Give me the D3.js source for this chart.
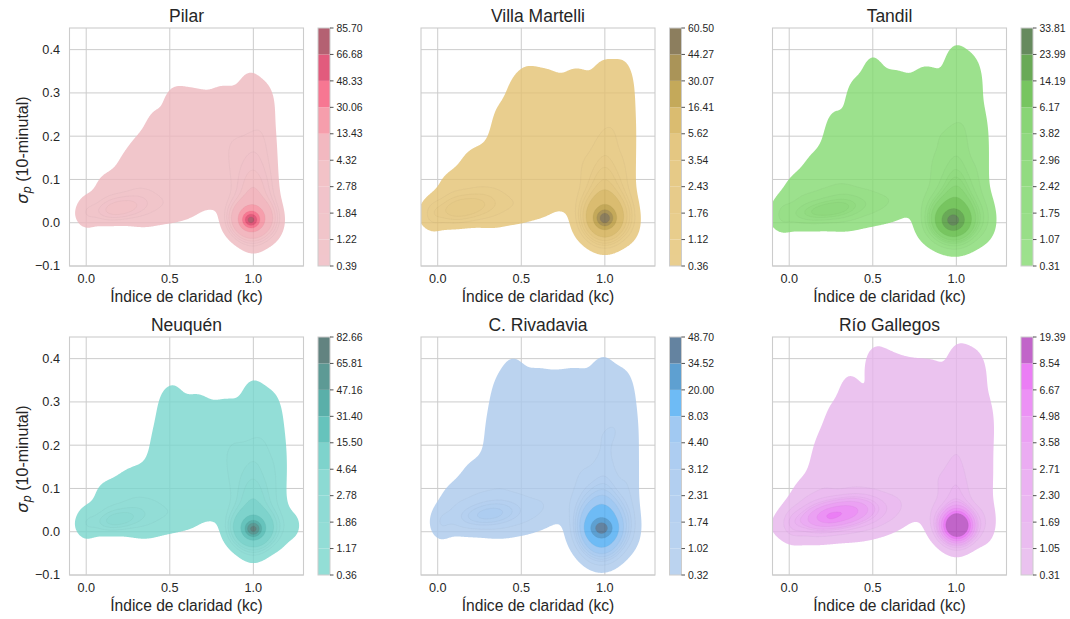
<!DOCTYPE html>
<html>
<head>
<meta charset="utf-8">
<script src="https://cdn.jsdelivr.net/npm/d3@7"></script>
<style>
body { margin: 0; background: #fff; }
svg { display: block; font-family: "Liberation Sans", Arial, sans-serif; }
</style>
</head>
<body>
<svg width="1070" height="619"></svg>
<script>
// station names and the seaborn husl palette used as seed colours
const stations = ["Pilar", "Villa Martelli", "Tandil", "Neuquén", "C. Rivadavia", "Río Gallegos"];
const seeds = ["#f77189", "#bb9832", "#50b131", "#36ada4", "#3ba3ec", "#e866f4"];

// contour levels (bottom to top)
const levelsPilar = [0.39, 1.22, 1.84, 2.78, 4.32, 13.43, 30.06, 48.33, 66.68, 85.70];
const levelsMartelli = [0.36, 1.12, 1.76, 2.43, 3.54, 5.62, 16.41, 30.07, 44.27, 60.50];
const levelsTandil = [0.31, 1.07, 1.75, 2.42, 2.96, 3.82, 6.17, 14.19, 23.99, 33.81];
const levelsNeuquen = [0.36, 1.17, 1.86, 2.78, 4.64, 15.50, 31.40, 47.16, 65.81, 82.66];
const levelsRivadavia = [0.32, 1.02, 1.74, 2.31, 3.12, 4.40, 8.03, 20.00, 34.52, 48.70];
const levelsGallegos = [0.31, 1.05, 1.69, 2.30, 2.71, 3.58, 4.98, 6.67, 8.54, 19.39];

// density: [kc, sigma, sd kc, sd sigma, corr, height]
const kdePilar = [
  [0.985, 0.006, 0.03, 0.011, 0, 48], [0.99, 0.01, 0.06, 0.022, 0, 24], [1.0, 0.045, 0.06, 0.05, 0, 4], [1.0, -0.005, 0.1, 0.03, 0, 1.0],
  [0.2, 0.033, 0.075, 0.014, 0.3, 2.4], [0.18, 0.035, 0.13, 0.025, 0.3, 1.4],
  [0.53, 0.28, 0.06, 0.035, 0, 0.5], [0.65, 0.275, 0.07, 0.035, 0, 0.5], [0.82, 0.285, 0.07, 0.035, 0, 0.5], [0.98, 0.31, 0.06, 0.04, 0, 0.55], [1.08, 0.28, 0.05, 0.04, 0, 0.4],
  [0.33, 0.16, 0.05, 0.04, 0, 0.35], [0.41, 0.21, 0.05, 0.045, 0, 0.55], [0.6, 0.2, 0.075, 0.045, 0, 0.6], [0.75, 0.2, 0.075, 0.045, 0, 0.6], [0.9, 0.2, 0.075, 0.045, 0, 0.7], [1.05, 0.2, 0.06, 0.05, 0, 0.7],
  [0.12, 0.08, 0.07, 0.035, 0, 0.5], [0.27, 0.12, 0.075, 0.045, 0, 0.6], [0.42, 0.13, 0.075, 0.045, 0, 0.6], [0.57, 0.13, 0.075, 0.045, 0, 0.6], [0.72, 0.12, 0.075, 0.045, 0, 0.6], [0.88, 0.12, 0.06, 0.05, 0, 0.8], [1.0, 0.12, 0.06, 0.06, 0, 1.2], [1.1, 0.1, 0.04, 0.06, 0, 0.5],
  [0.0, 0.025, 0.04, 0.025, 0, 0.6], [0.35, 0.04, 0.09, 0.035, 0, 0.9], [0.52, 0.04, 0.08, 0.03, 0, 0.7], [0.63, 0.055, 0.06, 0.03, 0, 0.45], [0.76, 0.065, 0.06, 0.03, 0, 0.4], [0.88, 0.03, 0.05, 0.03, 0, 0.5], [1.12, 0.02, 0.04, 0.035, 0, 0.5]
];
const kdeMartelli = [
  [1.0, 0.01, 0.035, 0.013, 0, 36], [1.0, 0.015, 0.065, 0.028, 0, 17], [1.0, 0.05, 0.065, 0.05, 0, 3.5], [1.0, -0.01, 0.11, 0.03, 0, 1.0],
  [0.15, 0.032, 0.1, 0.02, 0.3, 2.0], [0.13, 0.035, 0.14, 0.028, 0.3, 1.2],
  [0.45, 0.28, 0.04, 0.04, 0, 0.35], [0.53, 0.325, 0.06, 0.035, 0, 0.5], [0.65, 0.32, 0.07, 0.035, 0, 0.5], [0.83, 0.325, 0.07, 0.035, 0, 0.5], [1.0, 0.335, 0.06, 0.04, 0, 0.55], [1.1, 0.32, 0.05, 0.045, 0, 0.5],
  [0.38, 0.22, 0.05, 0.05, 0, 0.55], [0.57, 0.22, 0.075, 0.045, 0, 0.6], [0.72, 0.22, 0.075, 0.045, 0, 0.6], [0.88, 0.22, 0.075, 0.045, 0, 0.7], [1.04, 0.22, 0.06, 0.05, 0, 0.7], [1.14, 0.22, 0.045, 0.08, 0, 0.5],
  [0.08, 0.08, 0.07, 0.035, 0, 0.5], [0.22, 0.12, 0.075, 0.045, 0, 0.6], [0.37, 0.14, 0.075, 0.045, 0, 0.6], [0.52, 0.14, 0.075, 0.045, 0, 0.6], [0.68, 0.13, 0.075, 0.045, 0, 0.6], [0.86, 0.12, 0.06, 0.05, 0, 0.8], [1.0, 0.12, 0.06, 0.06, 0, 1.2], [1.12, 0.1, 0.045, 0.06, 0, 0.55],
  [-0.03, 0.02, 0.04, 0.025, 0, 0.6], [0.33, 0.04, 0.09, 0.035, 0, 0.9], [0.5, 0.04, 0.08, 0.03, 0, 0.7], [0.63, 0.05, 0.06, 0.03, 0, 0.45], [0.76, 0.06, 0.06, 0.03, 0, 0.4], [0.88, 0.03, 0.05, 0.03, 0, 0.5], [1.15, 0.02, 0.04, 0.035, 0, 0.55]
];
const kdeTandil = [
  [0.98, 0.005, 0.045, 0.016, 0, 17], [0.98, 0.01, 0.08, 0.03, 0, 9], [1.0, 0.05, 0.07, 0.05, 0, 3], [0.98, -0.01, 0.12, 0.03, 0, 1.2],
  [0.22, 0.028, 0.12, 0.016, 0.4, 2.0], [0.2, 0.033, 0.17, 0.03, 0.3, 1.3],
  [0.4, 0.29, 0.05, 0.04, 0, 0.45], [0.5, 0.34, 0.05, 0.04, 0, 0.5], [0.63, 0.315, 0.07, 0.035, 0, 0.5], [0.82, 0.325, 0.07, 0.035, 0, 0.5], [1.0, 0.36, 0.06, 0.045, 0, 0.55], [1.1, 0.33, 0.05, 0.045, 0, 0.45],
  [0.27, 0.2, 0.05, 0.05, 0, 0.5], [0.45, 0.22, 0.075, 0.045, 0, 0.6], [0.6, 0.22, 0.075, 0.045, 0, 0.6], [0.75, 0.22, 0.075, 0.045, 0, 0.6], [0.9, 0.22, 0.075, 0.045, 0, 0.7], [1.04, 0.22, 0.06, 0.05, 0, 0.7], [1.15, 0.2, 0.04, 0.06, 0, 0.4],
  [0.05, 0.07, 0.07, 0.035, 0, 0.5], [0.18, 0.11, 0.075, 0.045, 0, 0.6], [0.33, 0.13, 0.075, 0.045, 0, 0.6], [0.5, 0.13, 0.075, 0.045, 0, 0.6], [0.67, 0.13, 0.075, 0.045, 0, 0.6], [0.86, 0.12, 0.06, 0.05, 0, 0.8], [1.0, 0.12, 0.06, 0.06, 0, 1.2], [1.13, 0.1, 0.045, 0.06, 0, 0.55],
  [-0.04, 0.02, 0.04, 0.025, 0, 0.6], [0.35, 0.04, 0.09, 0.035, 0, 0.9], [0.52, 0.04, 0.08, 0.03, 0, 0.7], [0.63, 0.05, 0.06, 0.03, 0, 0.45], [0.76, 0.06, 0.06, 0.03, 0, 0.4], [0.87, 0.03, 0.05, 0.03, 0, 0.5], [1.17, 0.02, 0.045, 0.035, 0, 0.55]
];
const kdeNeuquen = [
  [1.0, 0.006, 0.03, 0.011, 0, 46], [1.0, 0.01, 0.06, 0.022, 0, 24], [1.0, 0.045, 0.06, 0.05, 0, 4], [1.0, -0.005, 0.1, 0.03, 0, 1.0],
  [0.19, 0.028, 0.07, 0.013, 0.3, 2.3], [0.18, 0.032, 0.13, 0.025, 0.3, 1.3],
  [0.46, 0.27, 0.035, 0.04, 0, 0.35], [0.52, 0.3, 0.05, 0.04, 0, 0.5], [0.66, 0.285, 0.07, 0.035, 0, 0.5], [0.84, 0.27, 0.07, 0.035, 0, 0.5], [1.0, 0.31, 0.06, 0.04, 0, 0.55], [1.1, 0.28, 0.05, 0.04, 0, 0.4],
  [0.43, 0.2, 0.04, 0.045, 0, 0.5], [0.6, 0.2, 0.075, 0.045, 0, 0.6], [0.75, 0.2, 0.075, 0.045, 0, 0.6], [0.9, 0.2, 0.075, 0.045, 0, 0.7], [1.05, 0.2, 0.06, 0.05, 0, 0.7], [1.15, 0.17, 0.045, 0.08, 0, 0.5],
  [0.12, 0.08, 0.07, 0.035, 0, 0.5], [0.27, 0.1, 0.075, 0.04, 0, 0.6], [0.42, 0.12, 0.075, 0.045, 0, 0.6], [0.57, 0.13, 0.075, 0.045, 0, 0.6], [0.72, 0.12, 0.075, 0.045, 0, 0.6], [0.88, 0.12, 0.06, 0.05, 0, 0.8], [1.0, 0.12, 0.06, 0.06, 0, 1.2], [1.12, 0.1, 0.045, 0.06, 0, 0.55],
  [0.0, 0.02, 0.04, 0.025, 0, 0.6], [0.35, 0.035, 0.09, 0.035, 0, 0.9], [0.52, 0.04, 0.08, 0.03, 0, 0.7], [0.63, 0.05, 0.06, 0.03, 0, 0.45], [0.76, 0.06, 0.06, 0.03, 0, 0.4], [0.88, 0.03, 0.05, 0.03, 0, 0.5], [1.16, 0.02, 0.045, 0.035, 0, 0.55], [1.24, 0.015, 0.04, 0.025, 0, 0.45]
];
const kdeRivadavia = [
  [0.98, 0.008, 0.04, 0.013, 0, 27], [0.98, 0.01, 0.07, 0.035, 0, 14], [0.98, 0.03, 0.08, 0.05, 0, 3.5], [0.98, -0.005, 0.11, 0.03, 0, 1.0],
  [0.3, 0.04, 0.1, 0.016, 0.3, 1.8], [0.26, 0.04, 0.15, 0.03, 0.3, 1.2],
  [0.36, 0.3, 0.04, 0.045, 0, 0.4], [0.45, 0.36, 0.06, 0.04, 0, 0.5], [0.6, 0.34, 0.07, 0.035, 0, 0.5], [0.72, 0.33, 0.06, 0.035, 0, 0.35], [0.83, 0.34, 0.07, 0.035, 0, 0.5], [0.99, 0.36, 0.06, 0.04, 0, 0.55], [1.1, 0.33, 0.05, 0.04, 0, 0.4],
  [0.34, 0.22, 0.05, 0.05, 0, 0.5], [0.47, 0.24, 0.075, 0.045, 0, 0.6], [0.62, 0.24, 0.075, 0.045, 0, 0.6], [0.77, 0.24, 0.075, 0.045, 0, 0.6], [0.92, 0.24, 0.075, 0.045, 0, 0.7], [1.06, 0.24, 0.06, 0.05, 0, 0.7], [1.15, 0.22, 0.045, 0.08, 0, 0.5],
  [0.1, 0.07, 0.07, 0.035, 0, 0.5], [0.23, 0.11, 0.075, 0.045, 0, 0.6], [0.38, 0.13, 0.075, 0.045, 0, 0.6], [0.53, 0.13, 0.075, 0.045, 0, 0.6], [0.68, 0.13, 0.075, 0.045, 0, 0.6], [0.86, 0.12, 0.06, 0.05, 0, 0.8], [1.0, 0.12, 0.06, 0.06, 0, 1.1], [1.14, 0.1, 0.045, 0.06, 0, 0.55],
  [0.02, 0.02, 0.04, 0.025, 0, 0.6], [0.38, 0.04, 0.09, 0.035, 0, 0.8], [0.53, 0.04, 0.08, 0.03, 0, 0.7], [0.64, 0.055, 0.06, 0.03, 0, 0.45], [0.76, 0.065, 0.06, 0.03, 0, 0.4], [0.87, 0.03, 0.05, 0.03, 0, 0.5], [1.14, 0.02, 0.045, 0.035, 0, 0.55]
];
const kdeGallegos = [
  [1.005, 0.014, 0.06, 0.023, 0, 14], [1.0, 0.04, 0.07, 0.05, 0, 1.5],
  [0.28, 0.04, 0.13, 0.022, 0.4, 4.6], [0.25, 0.036, 0.18, 0.035, 0.3, 1.8], [0.245, 0.034, 0.03, 0.008, 0, 0.6],
  [0.36, 0.32, 0.05, 0.04, 0, 0.45], [0.52, 0.385, 0.06, 0.04, 0, 0.5], [0.62, 0.37, 0.06, 0.035, 0, 0.45], [0.72, 0.36, 0.06, 0.035, 0, 0.4], [0.84, 0.36, 0.07, 0.035, 0, 0.5], [1.02, 0.39, 0.06, 0.04, 0, 0.55], [1.12, 0.37, 0.05, 0.04, 0, 0.45],
  [0.2, 0.18, 0.05, 0.045, 0, 0.4], [0.27, 0.24, 0.05, 0.05, 0, 0.5], [0.45, 0.25, 0.075, 0.045, 0, 0.6], [0.6, 0.26, 0.075, 0.045, 0, 0.6], [0.75, 0.26, 0.075, 0.045, 0, 0.6], [0.9, 0.26, 0.075, 0.045, 0, 0.7], [1.05, 0.26, 0.06, 0.05, 0, 0.7], [1.18, 0.25, 0.045, 0.06, 0, 0.45],
  [0.1, 0.08, 0.07, 0.035, 0, 0.5], [0.22, 0.12, 0.075, 0.045, 0, 0.6], [0.38, 0.14, 0.075, 0.045, 0, 0.6], [0.53, 0.14, 0.075, 0.045, 0, 0.6], [0.68, 0.14, 0.075, 0.045, 0, 0.6], [0.86, 0.13, 0.06, 0.05, 0, 0.8], [1.0, 0.13, 0.06, 0.06, 0, 1.1], [1.16, 0.12, 0.05, 0.06, 0, 0.55],
  [0.02, 0.02, 0.04, 0.025, 0, 0.6], [0.42, 0.04, 0.09, 0.035, 0, 0.8], [0.55, 0.04, 0.08, 0.03, 0, 0.7], [0.65, 0.055, 0.06, 0.03, 0, 0.45], [0.76, 0.065, 0.06, 0.03, 0, 0.4], [0.87, 0.03, 0.05, 0.03, 0, 0.5], [1.17, 0.02, 0.05, 0.035, 0, 0.6]
];

const xTicks = [0, 0.5, 1.0];
const yTicks = [-0.1, 0, 0.1, 0.2, 0.3, 0.4];

const panels = [
  { levels: levelsPilar, kde: kdePilar },
  { levels: levelsMartelli, kde: kdeMartelli },
  { levels: levelsTandil, kde: kdeTandil },
  { levels: levelsNeuquen, kde: kdeNeuquen },
  { levels: levelsRivadavia, kde: kdeRivadavia },
  { levels: levelsGallegos, kde: kdeGallegos }
];

// layout
const colX = [69.5, 421, 772.5], rowY = [28, 337];
const axW = 234, axH = 238, cbGap = 14.5, cbW = 12;
const fillAlpha = 0.8;
const ink = "#262626", edge = "#cccccc";

// --- husl colour space (as in seaborn) ---
const M = [[3.2406, -1.5372, -0.4986], [-0.9689, 1.8758, 0.0415], [0.0557, -0.2040, 1.0570]];
const Minv = [[0.4124, 0.3576, 0.1805], [0.2126, 0.7152, 0.0722], [0.0193, 0.1192, 0.9505]];
const refU = 0.19784, refV = 0.46834;
function maxChroma(L, H) {
  const hr = H * Math.PI / 180, sinH = Math.sin(hr), cosH = Math.cos(hr);
  const sub1 = Math.pow(L + 16, 3) / 1560896, sub2 = sub1 > 0.008856 ? sub1 : L / 903.3;
  let res = Infinity;
  for (const [m1, m2, m3] of M) {
    const top = (0.99915 * m1 + 1.05122 * m2 + 1.14460 * m3) * sub2;
    const rb = 0.86330 * m3 - 0.17266 * m2, lb = 0.12949 * m3 - 0.38848 * m1;
    const bottom = (rb * sinH + lb * cosH) * sub2;
    for (const t of [0, 1]) {
      const C = L * (top - 1.05122 * t) / (bottom + 0.17266 * sinH * t);
      if (C > 0 && C < res) res = C;
    }
  }
  return res;
}
function huslToRgb(H, S, L) {
  const C = maxChroma(L, H) / 100 * S, hr = H * Math.PI / 180;
  const U = Math.cos(hr) * C, V = Math.sin(hr) * C;
  const t = (L + 16) / 116, Y = t * t * t > 0.008856 ? t * t * t : (116 * t - 16) / 903.3;
  const vu = U / (13 * L) + refU, vv = V / (13 * L) + refV;
  const X = -(9 * Y * vu) / ((vu - 4) * vv - vu * vv);
  const Z = (9 * Y - 15 * vv * Y - vv * X) / (3 * vv);
  return M.map(r => {
    const c = r[0] * X + r[1] * Y + r[2] * Z;
    const s = c <= 0.0031308 ? 12.92 * c : 1.055 * Math.pow(c, 1 / 2.4) - 0.055;
    return Math.max(0, Math.min(1, s));
  });
}
function rgbToHusl(hex) {
  const c = d3.rgb(hex);
  const lin = [c.r, c.g, c.b].map(v => { v /= 255; return v > 0.04045 ? Math.pow((v + 0.055) / 1.055, 2.4) : v / 12.92; });
  const [X, Y, Z] = Minv.map(r => r[0] * lin[0] + r[1] * lin[1] + r[2] * lin[2]);
  const d = X + 15 * Y + 3 * Z;
  const L = 116 * (Y > 0.008856 ? Math.cbrt(Y) : 7.787 * Y + 16 / 116) - 16;
  const U = 13 * L * (4 * X / d - refU), V = 13 * L * (9 * Y / d - refV);
  let H = Math.atan2(V, U) * 180 / Math.PI; if (H < 0) H += 360;
  return [H, Math.hypot(U, V) / maxChroma(L, H) * 100, L];
}
// seaborn's _cmap_from_color: 256 colours, light to dark
function cmapFromColor(hex) {
  const [h, s] = rgbToHusl(hex);
  const n = 256, m = Math.floor(1.15 * 256), cols = [];
  for (let j = 0; j < n; j++) {
    const xx = -1 + 2 * j / (m - 1);
    const rgb = huslToRgb(h, s * Math.cos(xx), 35 + 45 * j / (n - 1));
    cols.push(d3.rgb(rgb[0] * 255, rgb[1] * 255, rgb[2] * 255).formatHex());
  }
  cols.reverse();
  return v => cols[Math.max(0, Math.min(n - 1, Math.floor(v * n)))];
}

function density(comps, kc, sg) {
  let v = 0;
  for (const [mx, my, sx, sy, r, a] of comps) {
    const dx = (kc - mx) / sx, dy = (sg - my) / sy;
    v += a * Math.exp(-0.5 * (dx * dx - 2 * r * dx * dy + dy * dy) / (1 - r * r));
  }
  return v;
}

const svg = d3.select("svg");
const defs = svg.append("defs");

const nx = 351, ny = 276, k0 = -0.1, k1 = 1.3, g0 = -0.1, g1 = 0.45;
const dk = (k1 - k0) / (nx - 1), dg = (g1 - g0) / (ny - 1);

panels.forEach((p, idx) => {
  const col = idx % 3, row = Math.floor(idx / 3);
  const g = svg.append("g").attr("transform", `translate(${colX[col]},${rowY[row]})`);
  const x = d3.scaleLinear().domain([k0, k1]).range([0, axW]);
  const y = d3.scaleLinear().domain([g0, g1]).range([axH, 0]);
  const cmap = cmapFromColor(seeds[idx]);
  const lv = p.levels, lo = lv[0], hi = lv[lv.length - 1];
  const bandColor = lv.slice(0, -1).map((v, i) => cmap(((v + lv[i + 1]) / 2 - lo) / (hi - lo)));

  // grid
  g.append("g").selectAll("line").data(xTicks).join("line")
    .attr("x1", d => x(d)).attr("x2", d => x(d)).attr("y1", 0).attr("y2", axH)
    .attr("stroke", edge).attr("stroke-width", 1);
  g.append("g").selectAll("line").data(yTicks).join("line")
    .attr("x1", 0).attr("x2", axW).attr("y1", d => y(d)).attr("y2", d => y(d))
    .attr("stroke", edge).attr("stroke-width", 1);

  // density grid and contours
  const values = new Float64Array(nx * ny);
  for (let j = 0; j < ny; j++)
    for (let i = 0; i < nx; i++)
      values[j * nx + i] = density(p.kde, k0 + i * dk, g0 + j * dg);
  const contours = d3.contours().size([nx, ny]).thresholds(lv.slice(0, -1))(values);
  const path = d3.geoPath(d3.geoTransform({
    point(gx, gy) { this.stream.point(x(k0 + (gx - 0.5) * dk), y(g0 + (gy - 0.5) * dg)); }
  }));

  const clipId = "clip" + idx;
  defs.append("clipPath").attr("id", clipId).append("rect").attr("width", axW).attr("height", axH);
  const fills = g.append("g").attr("clip-path", `url(#${clipId})`).attr("opacity", fillAlpha);
  fills.selectAll("path.band").data(contours).join("path")
    .attr("class", "band")
    .attr("d", path)
    .attr("fill", (d, i) => bandColor[i]);
  fills.selectAll("path.seam").data(contours.slice(1)).join("path")
    .attr("class", "seam")
    .attr("d", path)
    .attr("fill", "none")
    .attr("stroke", (d, i) => d3.color(bandColor[i + 1]).darker(0.5))
    .attr("stroke-opacity", 0.3)
    .attr("stroke-width", 0.7);

  // spines
  g.append("rect").attr("width", axW).attr("height", axH)
    .attr("fill", "none").attr("stroke", edge).attr("stroke-width", 1.1);

  // tick labels
  g.append("g").selectAll("text").data(xTicks).join("text")
    .attr("x", d => x(d)).attr("y", axH + 16.5)
    .attr("text-anchor", "middle").attr("font-size", 12.7).attr("fill", ink)
    .text(d => d3.format(".1f")(d));
  if (col === 0) {
    g.append("g").selectAll("text").data(yTicks).join("text")
      .attr("x", -9.5).attr("y", d => y(d)).attr("dy", "0.35em")
      .attr("text-anchor", "end").attr("font-size", 12.7).attr("fill", ink)
      .text(d => d3.format(".1f")(d).replace("-", "\u2212"));
    const yl = g.append("text")
      .attr("transform", `translate(${-42},${axH / 2 + 3}) rotate(-90)`)
      .attr("text-anchor", "middle").attr("font-size", 16).attr("fill", ink);
    yl.append("tspan").attr("font-family", "DejaVu Sans").attr("font-style", "italic").text("σ");
    yl.append("tspan").attr("font-family", "DejaVu Sans").attr("font-style", "italic")
      .attr("font-size", 11.5).attr("dy", 3.5).text("p");
    yl.append("tspan").attr("dy", -3.5).text(" (10-minutal)");
  }
  g.append("text").attr("x", axW / 2).attr("y", axH + 36)
    .attr("text-anchor", "middle").attr("font-size", 15.6).attr("fill", ink)
    .text("Índice de claridad (kc)");
  g.append("text").attr("x", axW / 2).attr("y", -6)
    .attr("text-anchor", "middle").attr("font-size", 17.5).attr("fill", ink)
    .text(stations[idx]);

  // colorbar
  const cb = g.append("g").attr("transform", `translate(${axW + cbGap},0)`);
  const cy = d3.scaleLinear().domain([0, lv.length - 1]).range([axH, 0]);
  cb.append("g").attr("opacity", fillAlpha).selectAll("rect").data(bandColor).join("rect")
    .attr("x", 0).attr("width", cbW)
    .attr("y", (d, i) => cy(i + 1)).attr("height", (d, i) => cy(i) - cy(i + 1))
    .attr("fill", d => d);
  cb.append("rect").attr("width", cbW).attr("height", axH)
    .attr("fill", "none").attr("stroke", edge).attr("stroke-width", 1);
  const ct = cb.append("g").selectAll("g").data(lv).join("g")
    .attr("transform", (d, i) => `translate(${cbW},${cy(i)})`);
  ct.append("line").attr("x2", 3.5).attr("stroke", ink).attr("stroke-width", 0.8);
  ct.append("text").attr("x", 6.5).attr("dy", "0.35em")
    .attr("font-size", 10.4).attr("fill", ink)
    .text(d => d.toFixed(2));
});
</script>
</body>
</html>
